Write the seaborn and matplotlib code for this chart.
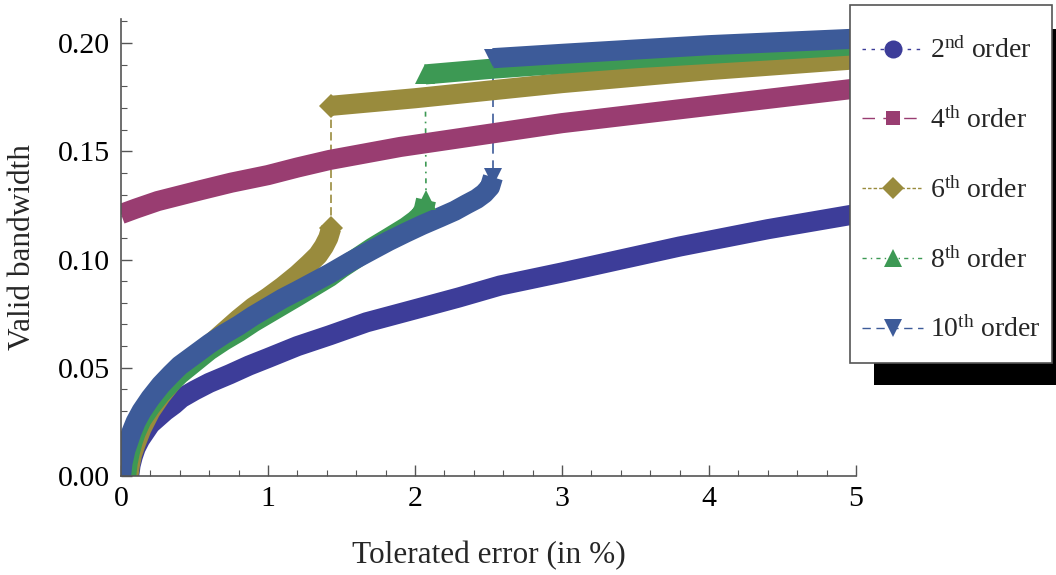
import matplotlib
matplotlib.use("Agg")
import numpy as np
import pandas as pd
import seaborn as sns
import matplotlib.pyplot as plt
from matplotlib.lines import Line2D
from matplotlib.patches import Rectangle

# ---- data: tolerated error (%) vs. valid bandwidth for each scheme order ----
orders = ["2nd", "4th", "6th", "8th", "10th"]
colors = ["#3D3D99", "#993D71", "#998B3D", "#3D9954", "#3D5B99"]
markers = ["o", "s", "D", "^", "v"]

err_2nd = [0.055, 0.065, 0.08, 0.1, 0.13, 0.16, 0.2, 0.25, 0.3, 0.36, 0.41, 0.5, 0.6, 0.74,
           0.87, 1.0, 1.2, 1.42, 1.67, 2.0, 2.3, 2.58, 3.0, 3.4, 3.8, 4.4, 5.0]
bw_2nd = [0.0, 0.005, 0.009, 0.013, 0.017, 0.020, 0.024, 0.027, 0.030, 0.033, 0.036, 0.0395,
          0.043, 0.047, 0.051, 0.0545, 0.060, 0.065, 0.071, 0.077, 0.0825, 0.088, 0.094,
          0.100, 0.106, 0.114, 0.121]

err_4th = [0.0, 0.1, 0.25, 0.54, 0.75, 1.0, 1.2, 1.42, 1.9, 2.5, 3.0, 3.5, 4.0, 4.5, 5.0]
bw_4th = [0.121, 0.1235, 0.127, 0.132, 0.1355, 0.139, 0.1425, 0.146, 0.152, 0.158, 0.163,
          0.167, 0.171, 0.175, 0.179]

err_6th_low = [0.05, 0.06, 0.075, 0.1, 0.14, 0.2, 0.27, 0.34, 0.4, 0.5, 0.6, 0.7, 0.8, 0.9,
               1.0, 1.1, 1.2, 1.28, 1.34, 1.38, 1.41, 1.43]
bw_6th_low = [0.0, 0.005, 0.010, 0.015, 0.022, 0.030, 0.037, 0.043, 0.048, 0.0545, 0.0605,
              0.0665, 0.0725, 0.078, 0.0825, 0.0875, 0.093, 0.098, 0.102, 0.106, 0.110, 0.1145]
err_6th_high = [1.43, 2.0, 2.5, 3.0, 3.5, 4.0, 4.5, 5.0]
bw_6th_high = [0.171, 0.1745, 0.178, 0.1815, 0.1845, 0.1875, 0.190, 0.1925]

err_8th_low = [0.035, 0.045, 0.06, 0.08, 0.1, 0.14, 0.2, 0.27, 0.34, 0.4, 0.5, 0.6, 0.7, 0.8,
               0.9, 1.0, 1.1, 1.2, 1.31, 1.42, 1.5, 1.6, 1.71, 1.82, 1.94, 2.0, 2.04, 2.06, 2.075]
bw_8th_low = [0.0, 0.006, 0.011, 0.016, 0.020, 0.026, 0.032, 0.038, 0.043, 0.047, 0.0525,
              0.058, 0.0625, 0.0665, 0.071, 0.075, 0.079, 0.083, 0.0875, 0.092, 0.096, 0.1005,
              0.1055, 0.110, 0.115, 0.118, 0.1205, 0.123, 0.1275]
err_8th_high = [2.07, 2.5, 3.0, 3.5, 4.0, 4.5, 5.0]
bw_8th_high = [0.1855, 0.188, 0.1905, 0.193, 0.195, 0.197, 0.199]

err_10th_low = [0.0, 0.01, 0.03, 0.05, 0.07, 0.1, 0.14, 0.2, 0.27, 0.34, 0.4, 0.5, 0.6, 0.7,
                0.8, 0.9, 1.0, 1.1, 1.2, 1.31, 1.42, 1.56, 1.71, 1.82, 1.94, 2.05, 2.17, 2.27,
                2.35, 2.42, 2.47, 2.51, 2.53]
bw_10th_low = [0.0, 0.006, 0.012, 0.016, 0.020, 0.025, 0.030, 0.036, 0.042, 0.047, 0.051,
               0.056, 0.061, 0.0655, 0.0695, 0.074, 0.078, 0.082, 0.0855, 0.0895, 0.0935,
               0.099, 0.1045, 0.1085, 0.1125, 0.116, 0.1195, 0.1225, 0.1255, 0.128, 0.1305,
               0.1335, 0.138]
err_10th_high = [2.53, 3.0, 3.5, 4.0, 4.5, 5.0]
bw_10th_high = [0.193, 0.195, 0.197, 0.199, 0.2005, 0.202]

branches = [
    ("2nd", "2nd-a", err_2nd, bw_2nd),
    ("4th", "4th-a", err_4th, bw_4th),
    ("6th", "6th-a", err_6th_low, bw_6th_low),
    ("6th", "6th-b", err_6th_high, bw_6th_high),
    ("8th", "8th-a", err_8th_low, bw_8th_low),
    ("8th", "8th-b", err_8th_high, bw_8th_high),
    ("10th", "10th-a", err_10th_low, bw_10th_low),
    ("10th", "10th-b", err_10th_high, bw_10th_high),
]
frames = [pd.DataFrame({"error": xs, "bandwidth": ys, "order": o, "branch": b})
          for o, b, xs, ys in branches]
df = pd.concat(frames, ignore_index=True)

# ---- style ----
sns.set_theme(style="ticks")
plt.rcParams["font.family"] = ["Liberation Serif", "DejaVu Serif"]
plt.rcParams["mathtext.fontset"] = "custom"
plt.rcParams["mathtext.rm"] = "Liberation Serif"
plt.rcParams["mathtext.it"] = "Liberation Serif:italic"
axis_gray = "#555555"

W, H = 1056, 575
fig = plt.figure(figsize=(W / 100, H / 100), dpi=100)
ax = fig.add_axes([121 / W, 1 - 476 / H, (856 - 121) / W, (476 - 19) / H])

palette = dict(zip(orders, colors))

# thick bands traced by the densely sampled markers
sns.lineplot(data=df, x="error", y="bandwidth", hue="order", units="branch",
             hue_order=orders, palette=palette, estimator=None, sort=False,
             linewidth=14.5, solid_joinstyle="round", solid_capstyle="butt",
             legend=False, ax=ax, zorder=2)

# thin dashed joins across the jumps, and markers at the branch ends
jumps = [
    ("6th", err_6th_low, bw_6th_low, err_6th_high, bw_6th_high, (0, (5, 2.5)), 12),
    ("8th", err_8th_low, bw_8th_low, err_8th_high, bw_8th_high, (0, (3, 3, 1, 3)), 14.5),
    ("10th", err_10th_low, bw_10th_low, err_10th_high, bw_10th_high, (0, (10, 4)), 13.5),
]
for o, xl, yl, xh, yh, ls, ms in jumps:
    c = palette[o]
    m = markers[orders.index(o)]
    ax.plot([xl[-1], xh[0]], [yl[-1], yh[0]], color=c, lw=1.2, linestyle=ls, zorder=1)
    ax.plot([xl[-1], xh[0]], [yl[-1], yh[0]], linestyle="none", marker=m, ms=ms,
            color=c, markeredgewidth=0, zorder=2.5)

ax.set_xlim(0, 5)
ax.set_ylim(0, 0.2111)
ax.set_xticks([0, 1, 2, 3, 4, 5])
ax.set_xticks(np.arange(0, 5.01, 0.2), minor=True)
ax.set_yticks([0.0, 0.05, 0.10, 0.15, 0.20])
ax.set_yticks(np.arange(0, 0.2101, 0.01), minor=True)
ax.set_yticklabels(["0.00", "0.05", "0.10", "0.15", "0.20"])
ax.tick_params(axis="both", which="major", direction="in", length=8, width=1,
               color=axis_gray, labelsize=21.5, labelcolor="black")
ax.tick_params(axis="both", which="minor", direction="in", length=4.5, width=0.8,
               color=axis_gray)
ax.tick_params(axis="x", which="major", pad=7)
ax.tick_params(axis="y", which="major", pad=8)
for side in ("top", "right"):
    ax.spines[side].set_visible(False)
for side in ("left", "bottom"):
    ax.spines[side].set_color(axis_gray)
    ax.spines[side].set_linewidth(1.2)

ax.set_xlabel("Tolerated error (in %)", fontsize=22.5, labelpad=21)
ax.set_ylabel("Valid bandwidth", fontsize=22.5, labelpad=15)

# ---- legend: frame with a solid drop shadow, entries on top ----
fig.patches.append(Rectangle((874 / W, 1 - 385 / H), 206 / W, 356 / H,
                             transform=fig.transFigure, facecolor="black",
                             edgecolor="none", zorder=3))
fig.patches.append(Rectangle((850 / W, 1 - 363 / H), 202 / W, 358 / H,
                             transform=fig.transFigure, facecolor="white",
                             edgecolor=axis_gray, linewidth=1.2, zorder=4))

legend_dashes = [(0, (2.5, 4)), (0, (9, 6)), (0, (2.5, 1.5)), (0, (3, 3, 1, 3)), (0, (6, 4))]
legend_ms = [13, 10.5, 11.5, 13, 13]
handles = [Line2D([0], [0], color=c, lw=1, linestyle=d, marker=m, ms=s, markeredgewidth=0)
           for c, d, m, s in zip(colors, legend_dashes, markers, legend_ms)]
labels = [r"2$^{\mathrm{nd}}$ order", r"4$^{\mathrm{th}}$ order", r"6$^{\mathrm{th}}$ order",
          r"8$^{\mathrm{th}}$ order", r"10$^{\mathrm{th}}$ order"]
leg = fig.legend(handles, labels, loc="upper left",
                 bbox_to_anchor=(862 / W, 1 - 38 / H), bbox_transform=fig.transFigure,
                 borderaxespad=0, borderpad=0, labelspacing=1.56, handlelength=2.2,
                 handletextpad=0.25, fontsize=20, frameon=False)
leg.set_zorder(5)

fig.savefig("out.png", dpi=100)
